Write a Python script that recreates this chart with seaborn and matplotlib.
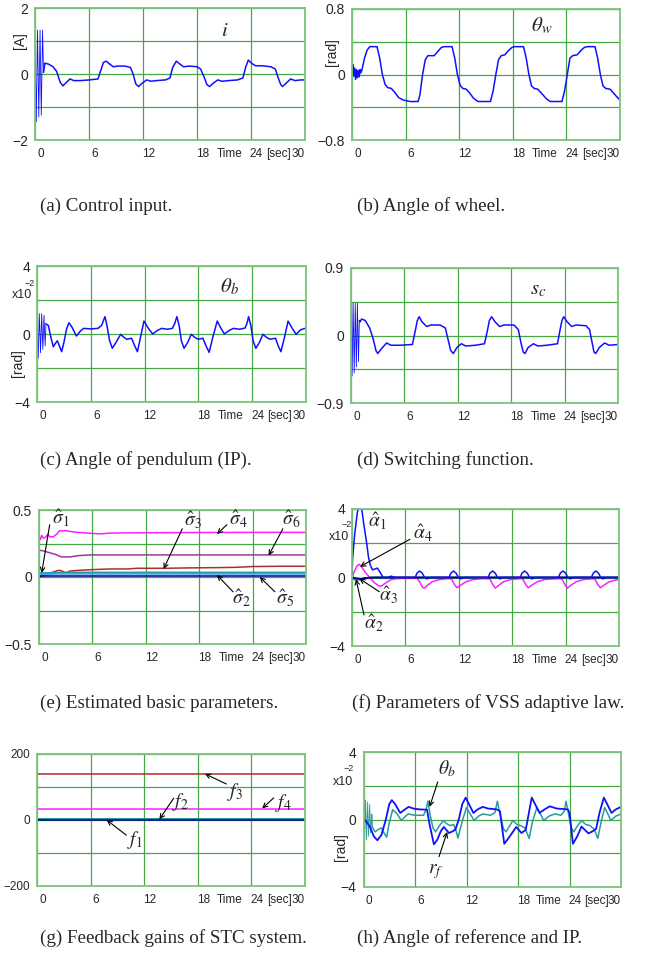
import matplotlib
matplotlib.use("Agg")
import matplotlib.pyplot as plt
import matplotlib.transforms as mtransforms
import seaborn as sns

sns.set_style("white")
plt.rcParams["font.family"] = ["Liberation Sans", "DejaVu Sans"]
plt.rcParams["mathtext.fontset"] = "stix"

# ---- data ----
# (a) control input i [A]; fast switching at start kept separately
t_i_osc = [0, 0.14, 0.28, 0.42, 0.56, 0.7, 0.84, 0.95]
i_osc = [1.0, -1.45, 1.33, -1.3, 1.33, -1.25, 1.33, 0.05]
t_i = [0.95, 1.1, 1.5, 2.0, 2.4, 2.8, 3.1, 3.5, 3.9, 4.3, 5.0, 6.0, 7.0, 7.3, 7.6, 7.9,
       8.3, 8.7, 9.2, 10.0, 10.6, 10.9, 11.2, 11.5, 11.9, 12.4, 12.9, 13.5, 14.5, 15.0,
       15.3, 15.7, 16.1, 16.5, 17.2, 18.0, 18.4, 18.8, 19.1, 19.4, 19.8, 20.3, 20.8,
       21.5, 22.5, 23.1, 23.4, 23.7, 24.1, 24.5, 25.2, 26.2, 26.7, 27.0, 27.3, 27.5,
       27.9, 28.4, 28.9, 29.5, 30.0]
i_val = [0.05, 0.33, 0.3, 0.22, 0.08, -0.25, -0.36, -0.25, -0.15, -0.2, -0.2, -0.18, -0.15, 0.1,
         0.35, 0.39, 0.3, 0.22, 0.24, 0.24, 0.2, 0.0, -0.3, -0.38, -0.28, -0.18, -0.22, -0.2,
         -0.18, -0.12, 0.2, 0.39, 0.3, 0.22, 0.24, 0.22, 0.15, -0.1, -0.32, -0.38, -0.28,
         -0.18, -0.22, -0.2, -0.18, -0.12, 0.2, 0.42, 0.32, 0.25, 0.25, 0.22, 0.15, -0.1,
         -0.32, -0.38, -0.28, -0.15, -0.2, -0.18, -0.18]

# (b) wheel angle theta_w [rad]
t_w = [0, 0.1, 0.2, 0.3, 0.4, 0.5, 0.6, 0.7, 0.8, 0.9, 1.0, 1.1, 1.4, 1.7, 2.0, 2.8, 3.1,
       3.4, 3.7, 4.0, 4.4, 4.8, 5.2, 5.7, 6.5, 7.4, 7.6, 7.9, 8.2, 8.5, 9.2, 9.6, 10.0,
       10.3, 11.2, 11.5, 11.8, 12.1, 12.4, 12.8, 13.2, 13.6, 14.1, 15.5, 15.8, 16.1, 16.4,
       16.7, 17.1, 17.5, 17.9, 18.2, 19.2, 19.5, 19.8, 20.1, 20.4, 20.8, 21.3, 21.8, 22.2,
       23.5, 23.8, 24.1, 24.4, 24.7, 25.2, 25.6, 26.0, 26.3, 27.2, 27.5, 27.8, 28.1, 28.4,
       28.9, 29.3, 29.7, 30.0]
w_val = [0.05, 0.12, -0.02, 0.08, -0.06, 0.06, -0.04, 0.05, -0.03, 0.06, 0.02, 0.05, 0.2,
         0.3, 0.34, 0.34, 0.2, 0.0, -0.12, -0.16, -0.17, -0.22, -0.28, -0.31, -0.33, -0.33,
         -0.25, 0.0, 0.18, 0.23, 0.23, 0.28, 0.33, 0.34, 0.34, 0.2, 0.0, -0.13, -0.17, -0.18,
         -0.23, -0.29, -0.33, -0.33, -0.2, 0.0, 0.18, 0.23, 0.24, 0.29, 0.33, 0.34, 0.34,
         0.2, 0.0, -0.14, -0.17, -0.18, -0.24, -0.3, -0.33, -0.33, -0.2, 0.0, 0.2, 0.23,
         0.24, 0.29, 0.33, 0.34, 0.34, 0.2, 0.0, -0.14, -0.17, -0.18, -0.23, -0.28, -0.31]

# (c) pendulum angle theta_b [x1e-2 rad]
t_b_osc = [0, 0.13, 0.26, 0.39, 0.52, 0.65, 0.78, 0.91, 1.0]
b_osc = [0.3, -1.43, 1.2, -1.1, 1.2, -0.9, 1.1, -0.7, 0.6]
t_b = [1.0, 1.27, 1.5, 1.82, 2.05, 2.27, 2.5, 2.75, 3.0, 3.3, 3.57, 3.9, 4.4, 4.8, 5.2, 6.0,
       6.8, 7.2, 7.58, 7.8, 8.1, 8.4, 8.8, 9.33, 9.7, 10.0, 10.55, 10.9, 11.2, 11.5, 11.93,
       12.4, 12.9, 13.4, 13.9, 14.5, 15.1, 15.35, 15.6, 15.85, 16.1, 16.4, 16.8, 17.2, 17.6,
       17.98, 18.5, 18.85, 19.2, 19.6, 20.1, 20.5, 20.9, 21.4, 21.9, 22.6, 23.2, 23.4,
       23.6, 23.85, 24.1, 24.4, 24.8, 25.2, 25.6, 25.98, 26.6, 26.9, 27.2, 27.6, 28.0,
       28.45, 28.9, 29.4, 29.9, 30.0]
b_val = [0.6, 0.5, -0.1, -0.75, -0.55, -0.4, -0.7, -1.04, -0.5, 0.3, 0.66, 0.4, -0.12, 0.15,
         0.33, 0.3, 0.33, 0.5, 1.02, 0.5, -0.4, -0.84, -0.5, -0.02, -0.2, -0.31, -0.25, -0.7,
         -1.04, -0.3, 0.76, 0.35, 0.0, 0.2, 0.33, 0.28, 0.33, 0.6, 1.02, 0.5, -0.4, -0.84,
         -0.5, -0.02, -0.2, -0.31, -0.25, -0.7, -1.08, -0.2, 0.76, 0.35, 0.0, 0.2, 0.33,
         0.28, 0.35, 0.6, 1.02, 0.5, -0.4, -0.84, -0.5, -0.02, -0.2, -0.31, -0.25, -0.7,
         -1.04, -0.2, 0.76, 0.35, -0.02, 0.25, 0.33, 0.33]

# (d) switching function s_c
t_s_osc = [0, 0.12, 0.24, 0.36, 0.48, 0.6, 0.72, 0.84, 0.94]
s_osc = [0.25, -0.54, 0.43, -0.5, 0.43, -0.42, 0.43, -0.35, 0.2]
t_s = [0.94, 1.0, 1.2, 1.6, 2.1, 2.5, 2.8, 3.0, 3.4, 4.0, 4.5, 5.5, 6.9, 7.2, 7.45, 7.65,
       8.0, 8.5, 9.0, 10.0, 10.6, 10.9, 11.2, 11.5, 11.9, 12.4, 12.9, 14.0, 15.0, 15.3,
       15.55, 15.8, 16.2, 16.7, 17.2, 18.3, 18.8, 19.1, 19.35, 19.55, 19.9, 20.5, 21.0,
       22.0, 23.2, 23.45, 23.7, 23.9, 24.3, 24.8, 25.3, 26.4, 26.8, 27.1, 27.3, 27.5, 27.9,
       28.5, 29.0, 30.0]
s_val = [0.2, 0.18, 0.22, 0.2, 0.1, -0.05, -0.2, -0.24, -0.18, -0.1, -0.13, -0.13, -0.12,
         0.05, 0.2, 0.25, 0.18, 0.12, 0.14, 0.14, 0.1, -0.05, -0.2, -0.24, -0.16, -0.11,
         -0.14, -0.13, -0.11, 0.05, 0.2, 0.25, 0.18, 0.12, 0.14, 0.14, 0.08, -0.1, -0.22,
         -0.24, -0.16, -0.11, -0.14, -0.13, -0.11, 0.05, 0.2, 0.25, 0.18, 0.12, 0.14, 0.13,
         0.08, -0.1, -0.22, -0.24, -0.16, -0.1, -0.13, -0.12]

# (e) estimated basic parameters sigma_1..6
t_sig4 = [0, 0.15, 0.3, 0.5, 0.8, 1.0, 1.2, 1.6, 2.0, 2.3, 3.0, 4.0, 6.0, 7.0, 8.0, 12.0, 18.0, 24.0, 30.0]
sig4 = [0.3, 0.28, 0.31, 0.29, 0.3, 0.32, 0.3, 0.3, 0.32, 0.345, 0.345, 0.335, 0.325, 0.322,
        0.328, 0.33, 0.332, 0.333, 0.333]
t_sig6 = [0, 0.5, 1.0, 2.0, 2.5, 3.5, 4.5, 6.0, 10.0, 30.0]
sig6 = [0.2, 0.195, 0.185, 0.165, 0.15, 0.15, 0.16, 0.165, 0.165, 0.165]
t_sig3 = [0, 0.5, 1.0, 1.5, 2.2, 2.6, 3.0, 3.5, 4.5, 6.0, 8.0, 10.0, 11.0, 14.0, 17.0, 20.0, 22.0, 24.0, 27.0, 30.0]
sig3 = [0.0, 0.01, 0.025, 0.035, 0.05, 0.045, 0.03, 0.045, 0.05, 0.055, 0.06, 0.06, 0.065,
        0.065, 0.068, 0.07, 0.072, 0.078, 0.08, 0.08]
t_sig1 = [0, 2.0, 10.0, 20.0, 30.0]
sig1 = [0.02, 0.025, 0.025, 0.025, 0.025]
t_sig2 = [0, 3.0, 15.0, 30.0]
sig2 = [0.03, 0.035, 0.035, 0.035]
t_sig5 = [0, 30.0]
sig5 = [0.005, 0.005]

# (f) VSS adaptive law parameters alpha_1..4 [x1e-2]
t_al1 = [0, 0.05, 0.3, 0.6, 0.85, 1.1, 1.3, 1.65, 1.85, 2.05, 2.3, 2.6, 2.85, 3.1, 3.5, 4.0,
         4.4, 4.8, 7.1, 7.3, 7.6, 7.9, 8.15, 8.4, 8.8, 10.9, 11.1, 11.4, 11.7, 11.95, 12.2,
         12.6, 15.3, 15.5, 15.8, 16.1, 16.35, 16.6, 17.0, 18.9, 19.1, 19.4, 19.7, 19.95,
         20.2, 20.6, 23.2, 23.4, 23.7, 24.0, 24.25, 24.5, 24.9, 26.9, 27.1, 27.4, 27.7,
         27.95, 28.2, 28.6, 30.0]
al1 = [0.0, 1.0, 2.5, 3.8, 4.3, 4.0, 3.2, 2.0, 1.2, 0.73, 0.45, 0.5, 0.55, 0.35, 0.0, 0.0,
       0.08, 0.0, 0.0, 0.25, 0.38, 0.25, 0.0, -0.08, 0.0, 0.0, 0.25, 0.38, 0.25, 0.0, -0.08,
       0.0, 0.0, 0.25, 0.38, 0.25, 0.0, -0.08, 0.0, 0.0, 0.25, 0.38, 0.25, 0.0, -0.08, 0.0,
       0.0, 0.25, 0.38, 0.25, 0.0, -0.08, 0.0, 0.0, 0.25, 0.38, 0.25, 0.0, -0.08, 0.0, 0.0]
t_al4 = [0, 0.3, 0.6, 0.82, 1.1, 1.5, 2.0, 2.5, 3.0, 3.3, 3.7, 4.4, 5.0, 6.0, 7.3, 7.6, 7.9,
         8.1, 8.5, 9.0, 9.8, 10.8, 11.2, 11.5, 11.8, 12.2, 12.8, 13.6, 14.8, 15.5, 15.8,
         16.1, 16.5, 17.0, 17.8, 18.9, 19.2, 19.5, 19.8, 20.2, 20.8, 21.6, 23.3, 23.6, 23.9,
         24.2, 24.6, 25.2, 26.0, 27.0, 27.3, 27.6, 27.9, 28.3, 28.9, 29.6, 30.0]
al4 = [0.0, 0.4, 0.7, 0.77, 0.6, 0.3, 0.0, -0.3, -0.48, -0.5, -0.35, -0.12, -0.06, -0.04,
       -0.04, -0.25, -0.55, -0.63, -0.45, -0.25, -0.12, -0.06, -0.1, -0.4, -0.6, -0.45,
       -0.25, -0.12, -0.06, -0.08, -0.4, -0.62, -0.45, -0.25, -0.12, -0.06, -0.1, -0.4,
       -0.6, -0.45, -0.25, -0.12, -0.06, -0.1, -0.4, -0.62, -0.45, -0.25, -0.12, -0.07,
       -0.1, -0.4, -0.6, -0.45, -0.25, -0.15, -0.12]
t_al2 = [0, 0.2, 0.5, 1.0, 1.5, 2.0, 30.0]
al2 = [0.0, -0.1, -0.15, -0.12, -0.05, 0.0, 0.0]
t_al3 = [0, 0.5, 1.0, 1.5, 2.5, 30.0]
al3 = [0.0, -0.05, -0.08, -0.03, 0.0, 0.0]

# (g) STC feedback gains
t_f = [0, 30.0]
f1 = [0.0, 0.0]
f2 = [2.0, 2.0]
f3 = [140.0, 140.0]
f4 = [32.0, 32.0]

# (h) reference r_f and pendulum angle theta_b [x1e-2 rad]
t_rf = [0, 0.3, 0.76, 1.2, 1.62, 2.1, 2.6, 3.0, 3.3, 3.7, 4.28, 4.7, 5.25, 5.8, 6.5, 7.4,
        7.7, 8.2, 8.6, 9.0, 9.36, 9.95, 10.3, 10.7, 11.1, 11.5, 11.9, 12.3, 12.8, 13.3,
        13.9, 14.5, 15.5, 15.9, 16.1, 16.4, 16.9, 17.8, 18.4, 18.9, 19.2, 19.6, 20.0, 20.5,
        21.1, 21.7, 22.5, 23.8, 24.0, 24.2, 24.4, 24.9, 25.4, 26.2, 26.7, 27.1, 27.5, 28.0,
        28.4, 28.9, 29.4, 30.0]
rf = [0.0, -0.1, -0.44, -1.0, -1.23, -0.9, 0.0, 0.9, 1.15, 0.9, 0.39, 0.55, 0.75, 0.65, 0.6,
      0.58, -0.3, -1.47, -1.2, -0.7, -0.44, -0.8, -0.72, -0.6, 0.0, 0.9, 1.3, 0.9, 0.39, 0.6,
      0.75, 0.65, 0.6, 0.5, -0.3, -1.44, -1.1, -0.44, -0.8, -0.62, 0.2, 1.3, 0.9, 0.39, 0.6,
      0.78, 0.65, 0.6, 0.4, -0.5, -1.44, -1.0, -0.42, -0.82, -0.7, -0.55, 0.4, 1.3, 0.9,
      0.39, 0.6, 0.75]
t_bh_osc = [0, 0.12, 0.24, 0.36, 0.48, 0.6, 0.72, 0.84, 0.96]
bh_osc = [0.5, -1.4, 1.15, -1.2, 1.05, -1.0, 0.9, -0.8, 0.3]
t_bh = [0.96, 1.0, 1.15, 1.35, 1.7, 2.1, 2.4, 2.7, 3.0, 3.4, 3.9, 4.4, 4.8, 5.2, 6.0, 7.0,
        7.3, 7.5, 7.75, 8.1, 8.4, 8.8, 9.3, 9.7, 10.1, 10.5, 10.8, 11.0, 11.5, 12.0, 12.4,
        12.9, 13.4, 13.9, 14.8, 15.3, 15.6, 15.9, 16.3, 16.6, 17.0, 17.4, 17.9, 18.3, 18.8,
        19.3, 19.7, 20.2, 20.6, 21.0, 21.6, 22.3, 23.0, 23.4, 23.6, 23.9, 24.2, 24.5, 24.9,
        25.4, 25.9, 26.4, 26.9, 27.3, 27.7, 28.1, 28.5, 28.8, 29.4, 30.0]
bh = [0.3, -0.4, -0.55, -0.73, -0.6, -0.5, -0.8, -1.05, -0.2, 0.58, 0.35, -0.06, 0.15, 0.33,
      0.25, 0.25, 0.6, 1.08, 0.3, -0.5, -0.73, -0.4, -0.06, -0.25, -0.36, -0.3, -0.7, -1.1,
      -0.1, 0.71, 0.35, -0.06, 0.2, 0.33, 0.25, 0.4, 1.08, 0.3, -0.55, -0.73, -0.4, -0.06,
      -0.3, -0.36, -0.5, -1.12, -0.1, 0.71, 0.35, -0.06, 0.2, 0.33, 0.25, 0.5, 1.08, 0.3,
      -0.5, -0.73, -0.4, -0.06, -0.3, -0.36, -0.6, -1.12, -0.1, 0.71, 0.3, -0.06, 0.2, 0.33]

x_ticks = [0, 6, 12, 18, 24, 30]
captions = ["(a) Control input.", "(b) Angle of wheel.", "(c) Angle of pendulum (IP).",
            "(d) Switching function.", "(e) Estimated basic parameters.",
            "(f) Parameters of VSS adaptive law.", "(g) Feedback gains of STC system.",
            "(h) Angle of reference and IP."]

# ---- colours ----
BLUE = "#1010ff"
TEAL = "#2a9a9a"
MAGENTA = "#ff1eff"
PURPLE = "#9a3a9a"
BROWN = "#a83030"
NAVY = "#000080"
LBLUE = "#4aa0ff"
GRID = "#45a845"
FRAME = "#7cc47c"
TICKFONT = 8.5

W, H = 657, 956
fig = plt.figure(figsize=(W / 100, H / 100), dpi=100)


def make_axes(l, t, r, b, ylim, ylabels, ysize=10):
    ax = fig.add_axes([l / W, 1 - b / H, (r - l) / W, (b - t) / H])
    lo, hi = ylim
    yt = [lo, lo / 2, 0, hi / 2, hi]
    ax.set_xlim(0, 30)
    ax.set_ylim(lo, hi)
    ax.set_xticks(x_ticks)
    ax.set_xticklabels([str(v) for v in x_ticks], fontsize=TICKFONT)
    ax.set_yticks(yt)
    ax.set_yticklabels([ylabels[0], "", "0", "", ylabels[1]], fontsize=ysize)
    ax.tick_params(length=0, pad=5)
    ax.tick_params(axis="x", pad=6)
    ax.grid(True, color=GRID, lw=0.9)
    for sp in ax.spines.values():
        sp.set_color(FRAME)
        sp.set_linewidth(1.3)
    shift = mtransforms.ScaledTranslation(0.055, 0, fig.dpi_scale_trans)
    labs = ax.get_xticklabels()
    for lab in labs[:-1]:
        lab.set_transform(lab.get_transform() + shift)
    labs[-1].set_horizontalalignment("right")
    ax.annotate("Time", xy=(21.6, 0), xycoords=("data", "axes fraction"),
                xytext=(0, -6), textcoords="offset points", ha="center", va="top",
                fontsize=TICKFONT)
    ax.annotate("[sec]", xy=(27.1, 0), xycoords=("data", "axes fraction"),
                xytext=(0, -6), textcoords="offset points", ha="center", va="top",
                fontsize=TICKFONT)
    return ax


def line(ax, t, v, color, lw=1.1):
    sns.lineplot(x=t, y=v, ax=ax, color=color, linewidth=lw, estimator=None,
                 sort=False, legend=False)
    ax.set_xlabel("")
    ax.set_ylabel("")


def arrow(ax, label, tip, tail, pos, size=14):
    ax.annotate("", xy=tip, xytext=tail,
                arrowprops=dict(arrowstyle="->", color="k", lw=0.8,
                                shrinkA=0, shrinkB=0, mutation_scale=8))
    ax.text(pos[0], pos[1], label, fontsize=size, ha="center", va="center")


def x10(ax, pos, sup):
    ax.text(pos[0], pos[1], "x10", fontsize=9, ha="center", va="center", clip_on=False)
    ax.text(sup[0], sup[1], "\u22122", fontsize=6.5, ha="center", va="center", clip_on=False)


# (a)
ax = make_axes(35, 8, 305, 140, (-2, 2), ["\u22122", "2"])
line(ax, t_i_osc, i_osc, BLUE, lw=0.6)
line(ax, t_i, i_val, BLUE)
ax.text(21.1, 1.33, r"$i$", fontsize=15, ha="center", va="center")
ax.text(-1.7, 1.0, "[A]", rotation=90, fontsize=10, ha="center", va="center")

# (b)
ax = make_axes(352, 9, 620, 140, (-0.8, 0.8), ["\u22120.8", "0.8"])
line(ax, t_w, w_val, BLUE)
ax.text(21.2, 0.6, r"$\theta_w$", fontsize=15, ha="center", va="center")
ax.text(-2.24, 0.27, "[rad]", rotation=90, fontsize=10, ha="center", va="center")

# (c)
ax = make_axes(37, 266, 306, 402, (-4, 4), ["\u22124", "4"])
line(ax, t_b_osc, b_osc, BLUE, lw=0.6)
line(ax, t_b, b_val, BLUE)
ax.text(21.5, 2.78, r"$\theta_b$", fontsize=15, ha="center", va="center")
ax.text(-2.1, -1.7, "[rad]", rotation=90, fontsize=10, ha="center", va="center")
x10(ax, (-1.7, 2.3), (-0.85, 3.0))

# (d)
ax = make_axes(351, 268, 618, 403, (-0.9, 0.9), ["\u22120.9", "0.9"])
line(ax, t_s_osc, s_osc, BLUE, lw=0.6)
line(ax, t_s, s_val, BLUE)
ax.text(21.0, 0.61, r"$s_c$", fontsize=15, ha="center", va="center")

# (e)
ax = make_axes(39, 510, 306, 644, (-0.5, 0.5), ["\u22120.5", "0.5"])
line(ax, t_sig6, sig6, PURPLE)
line(ax, t_sig4, sig4, MAGENTA)
line(ax, t_sig3, sig3, BROWN)
line(ax, t_sig1, sig1, LBLUE, lw=1.6)
line(ax, t_sig2, sig2, TEAL)
line(ax, t_sig5, sig5, NAVY)
arrow(ax, r"$\hat{\sigma}_1$", (0.3, 0.03), (1.2, 0.39), (2.4, 0.44))
arrow(ax, r"$\hat{\sigma}_3$", (14.0, 0.06), (16.1, 0.36), (17.3, 0.425))
arrow(ax, r"$\hat{\sigma}_4$", (20.0, 0.32), (21.1, 0.39), (22.4, 0.43))
arrow(ax, r"$\hat{\sigma}_6$", (25.8, 0.16), (27.4, 0.36), (28.3, 0.43))
arrow(ax, r"$\hat{\sigma}_2$", (20.0, 0.015), (21.8, -0.11), (22.7, -0.16))
arrow(ax, r"$\hat{\sigma}_5$", (24.8, 0.0), (26.5, -0.11), (27.6, -0.16))

# (f)
ax = make_axes(352, 509, 619, 646, (-4, 4), ["\u22124", "4"])
line(ax, t_al2, al2, TEAL, lw=1.4)
line(ax, t_al4, al4, MAGENTA)
line(ax, t_al3, al3, NAVY, lw=1.4)
line(ax, t_al1, al1, BLUE)
ax.text(2.8, 3.26, r"$\hat{\alpha}_1$", fontsize=14, ha="center", va="center")
arrow(ax, r"$\hat{\alpha}_4$", (0.9, 0.63), (6.5, 2.23), (7.9, 2.58))
arrow(ax, r"$\hat{\alpha}_3$", (0.82, -0.06), (3.07, -0.83), (4.1, -1.02))
arrow(ax, r"$\hat{\alpha}_2$", (0.45, -0.1), (1.35, -2.19), (2.5, -2.68))
x10(ax, (-1.5, 2.36), (-0.6, 3.12))

# (g)
ax = make_axes(37, 754, 305, 886, (-200, 200), ["\u2212200", "200"], ysize=TICKFONT)
line(ax, t_f, f3, BROWN)
line(ax, t_f, f4, MAGENTA)
line(ax, t_f, f2, TEAL, lw=2.2)
line(ax, t_f, f1, NAVY)
arrow(ax, r"$f_3$", (18.8, 140), (21.2, 109), (22.2, 86))
arrow(ax, r"$f_2$", (13.7, 2), (15.3, 66), (16.1, 56))
arrow(ax, r"$f_4$", (25.2, 35), (26.5, 67), (27.6, 53))
arrow(ax, r"$f_1$", (7.8, 0), (10.0, -46), (11.0, -61))

# (h)
ax = make_axes(363.5, 752, 621, 887, (-4, 4), ["\u22124", "4"])
line(ax, t_bh_osc, bh_osc, TEAL, lw=0.6)
line(ax, t_bh, bh, TEAL)
line(ax, t_rf, rf, BLUE, lw=1.3)
arrow(ax, r"$\theta_b$", (7.7, 0.75), (8.65, 2.23), (9.75, 3.03))
arrow(ax, r"$r_f$", (9.75, -0.74), (8.8, -2.2), (8.4, -3.1))
ax.text(-2.64, -1.65, "[rad]", rotation=90, fontsize=10, ha="center", va="center")
x10(ax, (-2.4, 2.23), (-1.7, 3.0))

# captions
cap_pos = [(40, 206), (357, 206), (40, 460), (357, 460),
           (40, 703), (352, 703), (40, 938), (357, 938)]
for text, (cx, cy) in zip(captions, cap_pos):
    fig.text(cx / W, 1 - cy / H, text, fontsize=13.7, family=["Liberation Serif"],
             ha="left", va="center")

fig.savefig("out.png", dpi=100)
